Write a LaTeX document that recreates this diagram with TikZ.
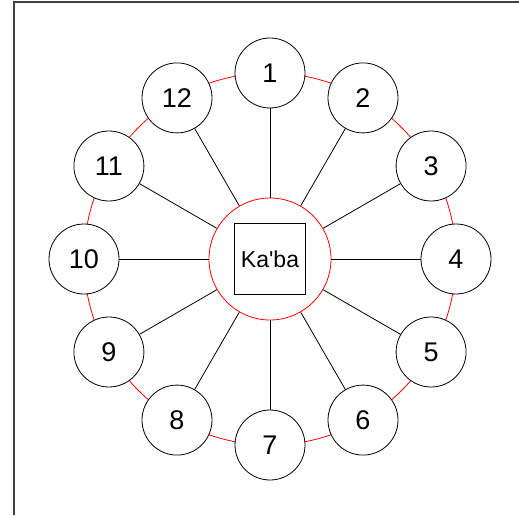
\documentclass[tikz,border=0pt]{standalone}
\usepackage{fontspec}
\setmainfont{Liberation Sans}
\usetikzlibrary{calc}

\tikzset{
  seat/.style={circle,draw,fill=white,minimum size=70pt,inner sep=0pt,font=\fontsize{27}{27}\selectfont},
  kabaring/.style={circle,draw=red,fill=white,minimum size=122pt,inner sep=0pt},
  kababox/.style={draw,minimum size=71pt,inner sep=0pt,font=\fontsize{23}{23}\selectfont}
}

\begin{document}
\begin{tikzpicture}[x=1pt,y=1pt,line width=0.8pt]
\useasboundingbox (0,0) rectangle (519,515);
\draw[line width=1.2pt,black!75] (14,0) -- (14,513) -- (519,513);
\coordinate (c) at (270,256);
\draw[red] (c) circle (186);
\node[kabaring] (kaba) at (c) {};
\node[kababox] (box) at (c) {Ka\textquotesingle ba};
\foreach \i in {1,...,12} {
  \node[seat] (s\i) at ($(c)+({90-30*(\i-1)}:186)$) {\i};
  \draw (kaba) -- (s\i);
}
\end{tikzpicture}
\end{document}
